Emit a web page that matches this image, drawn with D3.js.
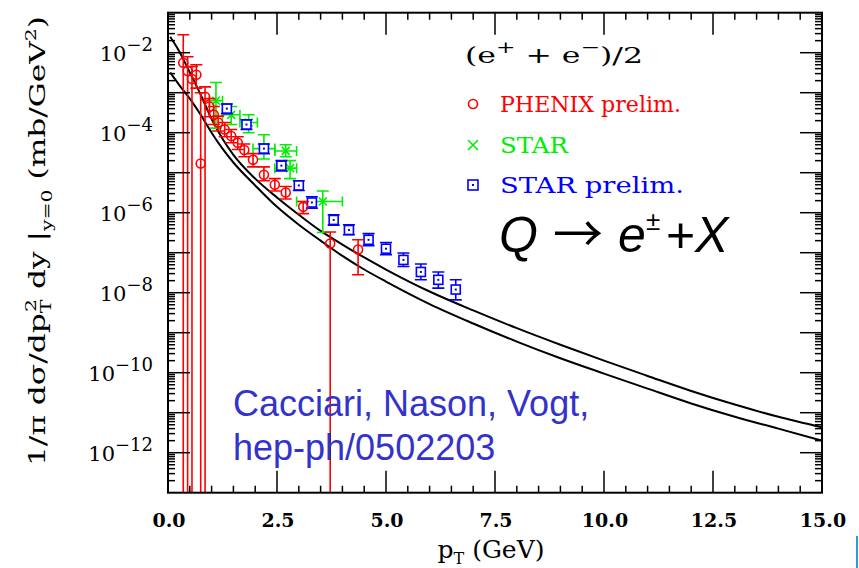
<!DOCTYPE html>
<html><head><meta charset="utf-8">
<script src="https://cdn.jsdelivr.net/npm/d3@7"></script>
<style>body{margin:0;background:#fff}</style>
</head><body><svg id="c" width="859" height="568"></svg>
<script>
// ---------- data ----------
const xTickValues = [0, 2.5, 5, 7.5, 10, 12.5, 15];
const xTickLabels = ["0.0", "2.5", "5.0", "7.5", "10.0", "12.5", "15.0"];
const yLabelExponents = [-2, -4, -6, -8, -10, -12];

// FONLL band edges [pT, value]
const upperCurve = [[0.05,2.5e-2],[0.25,1.12e-2],[0.5,3.2e-3],[0.75,8.9e-4],[1.0,2.2e-4],[1.25,7.1e-5],[1.5,2.8e-5],[2.0,7.1e-6],[2.5,2.4e-6],[3.0,8.9e-7],[3.5,3.5e-7],[4.0,1.6e-7],[4.5,7.6e-8],[5.0,3.8e-8],[6.0,1.07e-8],[7.0,3.6e-9],[8.0,1.3e-9],[9.0,5.0e-10],[10,2.0e-10],[11,8.3e-11],[12,3.5e-11],[13,1.6e-11],[14,7.9e-12],[15,4.3e-12]];
const lowerCurve = [[0.05,3.2e-3],[0.25,1.6e-3],[0.5,7.1e-4],[0.75,2.8e-4],[1.0,1.0e-4],[1.25,4.0e-5],[1.5,1.8e-5],[2.0,4.8e-6],[2.5,1.4e-6],[3.0,5.0e-7],[3.5,2.0e-7],[4.0,8.3e-8],[4.5,3.8e-8],[5.0,1.9e-8],[6.0,5.2e-9],[7.0,1.7e-9],[8.0,6.0e-10],[9.0,2.3e-10],[10,9.5e-11],[11,4.0e-11],[12,1.7e-11],[13,7.9e-12],[14,4.0e-12],[15,2.0e-12]];

// PHENIX prelim. [pT, value, low, high]  (low 0 = error reaches below axis)
const phenix = [[0.35,5.6e-3,0,2.8e-2],[0.45,3.5e-3,0,7.9e-3],[0.55,2.2e-3,0,4.5e-3],[0.65,2.8e-3,1.3e-3,5.0e-3],[0.75,1.7e-5,0,1.0e-3],[0.85,7.9e-4,0,1.4e-3],[0.95,4.5e-4,2.5e-4,7.1e-4],[1.05,2.8e-4,1.6e-4,4.5e-4],[1.15,1.8e-4,1.1e-4,2.6e-4],[1.3,1.2e-4,7.9e-5,1.8e-4],[1.45,8.3e-5,5.6e-5,1.2e-4],[1.6,5.6e-5,3.8e-5,7.9e-5],[1.75,3.7e-5,2.5e-5,5.2e-5],[1.95,2.1e-5,1.4e-5,3.0e-5],[2.2,8.9e-6,6.3e-6,1.4e-5],[2.45,5.0e-6,3.5e-6,7.1e-6],[2.7,3.2e-6,2.2e-6,4.5e-6],[3.1,1.4e-6,9.5e-7,1.9e-6],[3.72,1.7e-7,0,3.3e-7],[4.36,1.2e-7,2.8e-8,2.1e-7]];

// STAR [pT, value, low, high, pTlow, pThigh]
const star = [[1.1,6.3e-4,1.3e-4,1.8e-3,0.95,1.25],[1.45,2.8e-4,1.6e-4,4.5e-4,1.25,1.65],[1.85,1.8e-4,1.0e-4,2.8e-4,1.65,2.05],[2.2,4.0e-5,2.2e-5,8.9e-5,1.95,2.45],[2.7,3.5e-5,2.5e-5,5.0e-5,2.45,2.95],[2.8,1.3e-5,7.1e-6,2.0e-5,2.45,2.95],[3.55,1.9e-6,3.2e-7,3.5e-6,2.95,4.0]];

// STAR prelim. [pT, value, low, high]
const starPrelim = [[1.35,4.0e-4,3.0e-4,5.2e-4],[1.8,1.6e-4,1.2e-4,2.1e-4],[2.2,4.0e-5,3.0e-5,5.2e-5],[2.6,1.5e-5,1.1e-5,2.0e-5],[3.0,4.8e-6,3.6e-6,6.3e-6],[3.3,1.8e-6,1.3e-6,2.5e-6],[3.8,6.6e-7,4.9e-7,8.9e-7],[4.15,3.7e-7,2.8e-7,5.0e-7],[4.6,2.1e-7,1.5e-7,3.0e-7],[5.0,1.26e-7,8.9e-8,1.8e-7],[5.4,6.6e-8,4.5e-8,9.8e-8],[5.8,3.3e-8,2.1e-8,5.2e-8],[6.2,2.1e-8,1.3e-8,3.3e-8],[6.6,1.2e-8,6.6e-9,2.1e-8]];

const legendLabels = ["PHENIX prelim.", "STAR", "STAR prelim."];
const colors = {phenix: "#ff0000", star: "#00ee00", prelim: "#0000ff"};

// ---------- layout ----------
const L = 168, R = 822, T = 12.7, B = 492.7;
const svg = d3.select("#c");
svg.append("rect").attr("width", 859).attr("height", 568).attr("fill", "#fff");

const x = d3.scaleLinear().domain([0, 15]).range([L, R]);
const y = d3.scaleLog().domain([1e-13, 1e-1]).range([B, T]).clamp(true);
const serif = "'DejaVu Serif', serif";
const sans = "'Liberation Sans', Arial, sans-serif";

const plot = svg.append("g");
svg.append("clipPath").attr("id", "clip").append("rect")
  .attr("x", L).attr("y", T).attr("width", R - L).attr("height", B - T);
const data = plot.append("g").attr("clip-path", "url(#clip)");

// curves
const line = d3.line().x(d => x(d[0])).y(d => y(d[1])).curve(d3.curveMonotoneX);
[upperCurve, lowerCurve].forEach(c => {
  data.append("path").attr("d", line(c)).attr("fill", "none")
    .attr("stroke", "#000").attr("stroke-width", 2);
});

const capW = 6;
function vErr(g, d, col) {
  const yl = d[2] > 0 ? y(d[2]) : B + 5;
  g.append("line").attr("x1", x(d[0])).attr("x2", x(d[0]))
    .attr("y1", y(d[3])).attr("y2", yl).attr("stroke", col).attr("stroke-width", 1.6);
  g.append("line").attr("x1", x(d[0]) - capW).attr("x2", x(d[0]) + capW)
    .attr("y1", y(d[3])).attr("y2", y(d[3])).attr("stroke", col).attr("stroke-width", 1.6);
  if (d[2] > 0) g.append("line").attr("x1", x(d[0]) - capW).attr("x2", x(d[0]) + capW)
    .attr("y1", yl).attr("y2", yl).attr("stroke", col).attr("stroke-width", 1.6);
}

// STAR (green)
const gS = data.append("g");
star.forEach(d => {
  vErr(gS, d, colors.star);
  const yy = y(d[1]);
  gS.append("line").attr("x1", x(d[4])).attr("x2", x(d[5])).attr("y1", yy).attr("y2", yy)
    .attr("stroke", colors.star).attr("stroke-width", 1.6);
  [d[4], d[5]].forEach(e => gS.append("line").attr("x1", x(e)).attr("x2", x(e))
    .attr("y1", yy - 5).attr("y2", yy + 5).attr("stroke", colors.star).attr("stroke-width", 1.6));
  const cx = x(d[0]), s = 4;
  gS.append("path").attr("d", `M${cx-s},${yy-s}L${cx+s},${yy+s}M${cx-s},${yy+s}L${cx+s},${yy-s}`)
    .attr("stroke", colors.star).attr("stroke-width", 1.6);
});

// STAR prelim. (blue)
const gB = data.append("g");
starPrelim.forEach(d => {
  vErr(gB, d, colors.prelim);
  const cx = x(d[0]), cy = y(d[1]);
  gB.append("rect").attr("x", cx - 4.5).attr("y", cy - 4.5).attr("width", 9).attr("height", 9)
    .attr("fill", "#fff").attr("stroke", colors.prelim).attr("stroke-width", 1.6);
  gB.append("rect").attr("x", cx - 1).attr("y", cy - 1).attr("width", 2).attr("height", 2).attr("fill", colors.prelim);
});

// PHENIX (red)
const gP = data.append("g");
phenix.forEach(d => {
  vErr(gP, d, colors.phenix);
  gP.append("circle").attr("cx", x(d[0])).attr("cy", y(d[1])).attr("r", 4.5)
    .attr("fill", "none").attr("stroke", colors.phenix).attr("stroke-width", 1.6);
});

// ---------- axes ----------
const ax = svg.append("g").attr("stroke", "#000");
ax.append("rect").attr("x", L).attr("y", T).attr("width", R - L).attr("height", B - T)
  .attr("fill", "none").attr("stroke-width", 2);
const majLen = 22, minLen = 7;
d3.range(0, 15.01, 0.5).forEach(v => {
  const major = xTickValues.includes(v);
  const len = major ? majLen : minLen;
  if (v === 0 || v === 15) return;
  ax.append("line").attr("x1", x(v)).attr("x2", x(v)).attr("y1", B).attr("y2", B - len).attr("stroke-width", 1.5);
  ax.append("line").attr("x1", x(v)).attr("x2", x(v)).attr("y1", T).attr("y2", T + len).attr("stroke-width", 1.5);
});
for (let e = -13; e <= -1; e++) {
  for (let m = 1; m <= 9; m++) {
    const v = m * Math.pow(10, e);
    if (v > 0.1 + 1e-12) continue;
    const len = m === 1 ? majLen : minLen;
    const yy = y(v);
    if (Math.abs(yy - B) < 0.5 || Math.abs(yy - T) < 0.5) continue;
    ax.append("line").attr("x1", L).attr("x2", L + len).attr("y1", yy).attr("y2", yy).attr("stroke-width", 1.5);
    ax.append("line").attr("x1", R).attr("x2", R - len).attr("y1", yy).attr("y2", yy).attr("stroke-width", 1.5);
  }
}

// x tick labels
xTickValues.forEach((v, i) => {
  svg.append("text").attr("x", x(v) + 1).attr("y", 527).attr("text-anchor", "middle")
    .attr("font-family", serif).attr("font-weight", "bold").attr("font-size", 19).text(xTickLabels[i]);
});
// y tick labels
yLabelExponents.forEach(e => {
  const t = svg.append("text").attr("x", 153).attr("y", y(Math.pow(10, e)) + 8)
    .attr("text-anchor", "end").attr("font-family", serif).attr("font-size", 21);
  t.append("tspan").text("10");
  t.append("tspan").attr("dy", -10).attr("font-size", 18).text("\u2212" + Math.abs(e));
});

// axis titles
const xt = svg.append("text").attr("x", 491).attr("y", 558).attr("text-anchor", "middle")
  .attr("font-family", serif).attr("font-size", 25);
xt.append("tspan").text("p");
xt.append("tspan").attr("dy", 6).attr("font-size", 16).text("T");
xt.append("tspan").attr("dy", -6).text(" (GeV)");

const yt = svg.append("text").attr("transform", "translate(45,241) rotate(-90)")
  .attr("text-anchor", "middle").attr("font-family", serif).attr("font-size", 23)
  .attr("textLength", 450).attr("lengthAdjust", "spacingAndGlyphs");
yt.append("tspan").text("1/\u03C0 d\u03C3/dp");
yt.append("tspan").attr("dy", 6).attr("font-size", 15).text("T");
yt.append("tspan").attr("dy", -15).attr("dx", -9).attr("font-size", 15).text("2");
yt.append("tspan").attr("dy", 9).text(" dy |");
yt.append("tspan").attr("dy", 7).attr("font-size", 15).text("y=0");
yt.append("tspan").attr("dy", -7).text(" (mb/GeV");
yt.append("tspan").attr("dy", -9).attr("font-size", 15).text("2");
yt.append("tspan").attr("dy", 9).text(")");

// ---------- legend ----------
const lt = svg.append("text").attr("x", 465).attr("y", 63).attr("font-family", serif).attr("font-size", 23)
  .attr("textLength", 178).attr("lengthAdjust", "spacingAndGlyphs");
lt.append("tspan").text("(e");
lt.append("tspan").attr("dy", -10).attr("font-size", 17).text("+");
lt.append("tspan").attr("dy", 10).text(" + e");
lt.append("tspan").attr("dy", -10).attr("font-size", 17).text("\u2212");
lt.append("tspan").attr("dy", 10).text(")/2");

const legY = [104, 145, 185];
const legW = [181, 68, 184];
const legCols = [colors.phenix, colors.star, colors.prelim];
legendLabels.forEach((lab, i) => {
  const cx = 473, cy = legY[i];
  if (i === 0) svg.append("circle").attr("cx", cx).attr("cy", cy).attr("r", 4.5).attr("fill", "none")
    .attr("stroke", legCols[i]).attr("stroke-width", 1.6);
  if (i === 1) svg.append("path").attr("d", `M${cx-5},${cy-5}L${cx+5},${cy+5}M${cx-5},${cy+5}L${cx+5},${cy-5}`)
    .attr("stroke", legCols[i]).attr("stroke-width", 1.6);
  if (i === 2) {
    svg.append("rect").attr("x", cx - 5).attr("y", cy - 5).attr("width", 10).attr("height", 10)
      .attr("fill", "none").attr("stroke", legCols[i]).attr("stroke-width", 1.6);
    svg.append("rect").attr("x", cx - 1).attr("y", cy - 1).attr("width", 2).attr("height", 2).attr("fill", legCols[i]);
  }
  svg.append("text").attr("x", 500).attr("y", cy + 8).attr("font-family", serif).attr("font-size", 23)
    .attr("textLength", legW[i]).attr("lengthAdjust", "spacingAndGlyphs")
    .attr("fill", legCols[i]).text(lab);
});

// ---------- annotations ----------
const q = svg.append("text").attr("y", 252).attr("font-family", sans).attr("font-size", 50).attr("fill", "#000");
q.append("tspan").attr("x", 499).attr("font-style", "italic").text("Q");
q.append("tspan").attr("x", 553).attr("font-family", "'Noto Sans CJK SC', 'DejaVu Sans', sans-serif").attr("font-size", 50).text("\u2192");
q.append("tspan").attr("x", 618).attr("font-style", "italic").text("e");
q.append("tspan").attr("x", 646).attr("dy", -22).attr("font-size", 26).text("\u00B1");
q.append("tspan").attr("x", 666).attr("dy", 22).text("+");
q.append("tspan").attr("x", 695).attr("font-style", "italic").text("X");

const cite = svg.append("g").attr("font-family", sans).attr("font-size", 36).attr("fill", "#3333cc");
cite.append("text").attr("x", 233).attr("y", 416).text("Cacciari, Nason, Vogt,");
cite.append("text").attr("x", 233).attr("y", 460).text("hep-ph/0502203");

// small blue edge artifact at bottom right
svg.append("line").attr("x1", 857).attr("x2", 857).attr("y1", 536).attr("y2", 568).attr("stroke", "#3399dd").attr("stroke-width", 2);
</script></body></html>
